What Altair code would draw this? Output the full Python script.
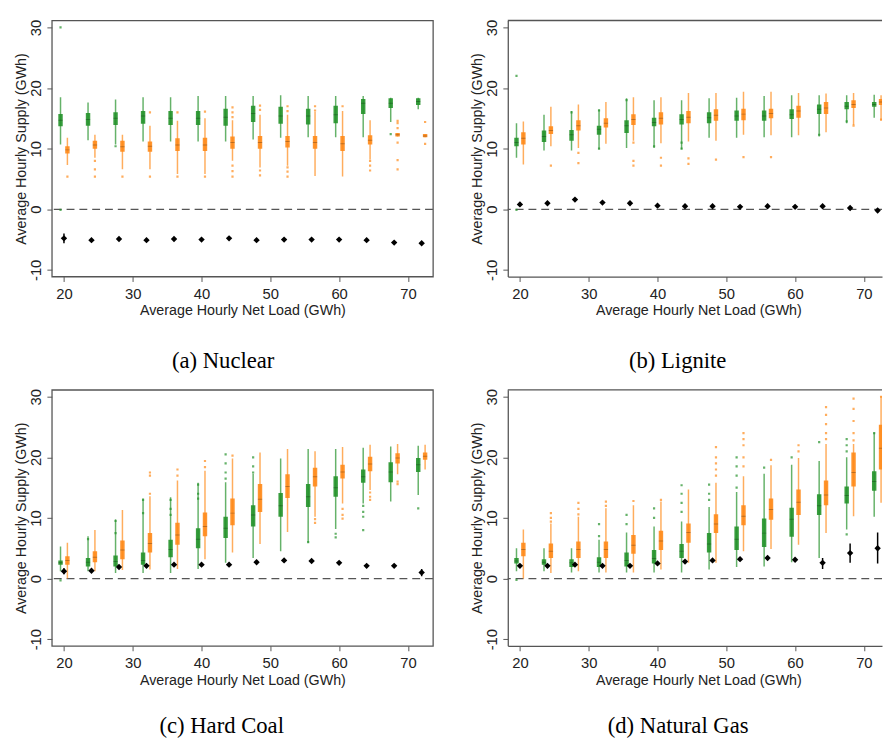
import altair as alt
import pandas as pd

loads = [20, 24, 28, 32, 36, 40, 44, 48, 52, 56, 60, 64, 68, 72]

# ---------------- (a) Nuclear ----------------
a_g_wlo = [10.7, 11.4, 10.7, 11.2, 11.2, 11.2, 11.2, 11.5, 11.8, 11.9, 11.9, 11.9, 14.4, 16.5]
a_g_q1 = [13.7, 13.8, 13.9, 14.1, 13.9, 13.9, 13.8, 14.4, 14.1, 14.0, 14.2, 15.7, 16.7, 17.2]
a_g_med = [14.7, 14.8, 15.0, 15.4, 15.0, 15.0, 15.2, 15.8, 15.4, 15.4, 15.6, 17.5, 17.5, 17.8]
a_g_q3 = [15.7, 15.9, 16.0, 16.2, 16.2, 16.2, 16.6, 17.1, 16.9, 16.6, 17.1, 18.2, 18.3, 18.3]
a_g_whi = [18.5, 17.6, 18.1, 18.5, 18.5, 18.7, 18.7, 18.7, 18.8, 18.7, 18.7, 18.7, 18.4, 18.4]
a_o_wlo = [7.3, 8.5, 6.6, 6.6, 5.8, 5.8, 8.0, 6.9, 7.2, 5.5, 5.4, 8.2, 12.0, 11.9]
a_o_q1 = [9.2, 10.0, 9.5, 9.5, 9.6, 9.6, 10.0, 10.0, 10.2, 10.0, 9.6, 10.7, 12.0, 11.9]
a_o_med = [9.8, 10.6, 10.3, 10.4, 10.6, 10.6, 11.0, 11.0, 11.2, 11.0, 10.8, 11.4, 12.3, 12.1]
a_o_q3 = [10.4, 11.3, 11.3, 11.2, 11.7, 11.8, 12.0, 12.1, 12.1, 12.1, 12.1, 12.2, 12.6, 12.4]
a_o_whi = [11.8, 12.3, 12.3, 13.8, 14.6, 15.0, 14.7, 15.6, 15.6, 16.1, 16.2, 14.7, 12.6, 12.4]
a_pt = [-4.8, -5.1, -4.9, -5.1, -4.9, -5.0, -4.8, -5.1, -5.0, -5.0, -5.0, -5.1, -5.5, -5.6]
a_lo = [-5.6, -5.3, -5.1, -5.3, -5.1, -5.2, -5.0, -5.3, -5.2, -5.2, -5.2, -5.3, -5.7, -5.8]
a_hi = [-4.0, -4.9, -4.7, -4.9, -4.7, -4.8, -4.6, -4.9, -4.8, -4.8, -4.8, -4.9, -5.3, -5.4]
a_go_x = [20, 20, 28, 68]
a_go_y = [30.0, -0.1, 10.4, 12.4]
a_oo_x = [20, 24, 24, 24, 28, 32, 32, 36, 36, 40, 40, 44, 44, 44, 44, 44, 44, 48, 48, 48, 48,
          52, 52, 52, 52, 52, 56, 56, 60, 64, 64, 64, 68, 68, 68, 68, 68, 68, 72, 72]
a_oo_y = [5.4, 8.0, 6.6, 5.4, 5.4, 16.0, 5.4, 16.0, 5.4, 16.1, 5.4, 16.8, 16.0, 15.2, 7.2, 6.3, 5.4,
          17.1, 16.4, 6.4, 5.6, 17.0, 16.2, 6.9, 6.2, 5.4, 17.0, 16.3, 17.0, 8.0, 7.2, 6.4,
          14.6, 14.2, 13.4, 11.0, 8.1, 6.6, 14.4, 10.8]

# ---------------- (b) Lignite ----------------
b_g_wlo = [8.5, 9.7, 9.7, 9.9, 10.1, 10.1, 9.9, 11.8, 11.8, 11.9, 11.9, 12.0, 14.2, 15.1]
b_g_q1 = [10.4, 11.1, 11.3, 12.3, 12.6, 13.7, 14.0, 14.2, 14.6, 14.6, 14.9, 15.7, 16.5, 16.9]
b_g_med = [11.0, 12.0, 12.3, 13.2, 13.8, 14.3, 14.8, 15.1, 15.4, 15.4, 15.6, 16.5, 17.0, 17.3]
b_g_q3 = [11.8, 13.0, 13.1, 13.8, 14.7, 15.1, 15.7, 16.0, 16.3, 16.3, 16.5, 17.3, 17.7, 17.7]
b_g_whi = [14.2, 15.6, 16.2, 16.5, 18.3, 18.0, 18.0, 18.3, 18.4, 18.7, 18.8, 18.8, 18.8, 18.9]
b_o_wlo = [7.4, 10.4, 10.1, 10.8, 11.3, 10.9, 11.2, 11.3, 12.3, 12.2, 12.2, 12.7, 13.9, 14.7]
b_o_q1 = [10.7, 12.4, 13.0, 13.5, 13.9, 14.0, 14.2, 14.6, 14.7, 15.0, 15.1, 15.7, 16.7, 17.2]
b_o_med = [11.7, 13.0, 13.8, 14.2, 14.8, 15.0, 15.2, 15.5, 15.7, 15.8, 16.2, 16.7, 17.3, 17.7]
b_o_q3 = [12.7, 13.7, 14.7, 15.0, 15.7, 16.0, 16.2, 16.5, 16.6, 16.6, 17.1, 17.7, 18.0, 18.2]
b_o_whi = [14.5, 16.9, 17.3, 17.7, 18.5, 18.5, 19.2, 19.2, 19.4, 19.4, 19.2, 19.1, 19.2, 18.8]
b_pt = [0.8, 1.0, 1.6, 1.1, 1.0, 0.6, 0.5, 0.5, 0.4, 0.5, 0.4, 0.5, 0.2, -0.2]
b_lo = [0.5, 0.8, 1.4, 0.9, 0.8, 0.4, 0.3, 0.3, 0.2, 0.3, 0.2, 0.3, 0.0, -0.4]
b_hi = [1.1, 1.2, 1.8, 1.3, 1.2, 0.8, 0.7, 0.7, 0.6, 0.7, 0.6, 0.7, 0.4, 0.0]
b_go_x = [20, 20, 28, 32, 32, 36, 40, 44, 44, 64, 68]
b_go_y = [22.0, -0.1, 16.0, 16.3, 10.0, 18.0, 10.4, 10.0, 11.0, 12.3, 14.5]
b_oo_x = [24, 28, 28, 36, 36, 36, 40, 40, 44, 44, 48, 52, 56, 68, 72]
b_oo_y = [7.2, 9.3, 7.6, 11.0, 8.0, 7.2, 8.5, 7.2, 8.4, 7.5, 8.2, 8.6, 8.6, 13.8, 14.8]

# ---------------- (c) Hard Coal ----------------
c_g_wlo = [1.2, 1.2, 0.9, 0.9, 0.9, 1.6, 2.6, 3.4, 4.5, 5.9, 8.2, 12.4, 12.7, 13.8]
c_g_q1 = [2.3, 2.0, 2.0, 2.3, 3.5, 5.0, 6.7, 8.6, 10.2, 11.8, 13.5, 15.8, 15.9, 17.6]
c_g_med = [2.6, 2.7, 2.8, 3.0, 4.8, 6.5, 8.3, 10.5, 12.0, 13.5, 15.0, 16.8, 17.6, 18.8]
c_g_q3 = [3.0, 3.4, 3.8, 4.3, 6.4, 8.3, 10.2, 12.1, 14.1, 15.6, 16.9, 18.0, 19.2, 19.9]
c_g_whi = [5.3, 7.0, 9.8, 13.2, 13.4, 15.8, 15.9, 17.3, 19.8, 21.4, 21.4, 21.6, 21.8, 21.9]
c_o_wlo = [0.0, 1.2, 1.4, 1.5, 1.6, 3.2, 4.3, 5.7, 7.7, 10.2, 12.4, 14.6, 17.2, 18.0]
c_o_q1 = [2.3, 2.7, 3.2, 4.3, 5.6, 7.0, 8.8, 11.0, 13.3, 15.2, 16.5, 17.7, 19.0, 19.6]
c_o_med = [3.0, 3.5, 4.7, 5.8, 7.2, 8.6, 10.8, 13.1, 15.2, 16.8, 17.6, 18.9, 19.9, 20.2]
c_o_q3 = [3.7, 4.5, 6.3, 7.5, 9.2, 10.9, 13.2, 15.6, 17.2, 18.3, 18.8, 20.1, 20.7, 20.8]
c_o_whi = [5.9, 8.0, 11.3, 13.6, 16.2, 17.8, 19.8, 20.8, 21.4, 21.0, 21.7, 22.1, 22.2, 22.1]
c_pt = [1.2, 1.3, 1.9, 2.1, 2.3, 2.3, 2.3, 2.7, 3.0, 2.9, 2.6, 2.1, 2.1, 1.0]
c_lo = [0.7, 1.1, 1.7, 1.9, 2.1, 2.1, 2.1, 2.5, 2.8, 2.7, 2.4, 1.9, 1.9, 0.4]
c_hi = [1.7, 1.5, 2.1, 2.3, 2.5, 2.5, 2.5, 2.9, 3.2, 3.1, 2.8, 2.3, 2.3, 1.6]
c_go_x = [20, 24, 28, 28, 32, 32, 36, 36, 36, 40, 40, 40, 44, 44, 44, 44, 48, 48, 48,
          56, 60, 60, 64, 64, 64, 64, 72]
c_go_y = [-0.3, 6.5, 9.5, 7.5, 13.0, 10.8, 13.0, 11.5, 10.5, 15.5, 14.0, 13.2, 20.5, 19.0, 17.5, 16.5,
          20.0, 18.5, 17.5, 6.0, 7.4, 6.8, 12.0, 11.0, 10.2, 8.0, 11.6]
c_oo_x = [32, 32, 32, 36, 36, 40, 40, 44, 56, 56, 60, 60, 60, 64, 64, 64, 68, 68]
c_oo_y = [17.5, 17.0, 14.0, 18.0, 17.0, 19.4, 18.4, 20.3, 9.8, 9.2, 11.5, 10.5, 9.9, 14.2, 13.5, 13.0,
          16.0, 15.6]

# ---------------- (d) Natural Gas ----------------
d_g_wlo = [1.2, 1.2, 1.0, 1.0, 1.0, 1.0, 1.0, 1.5, 1.9, 2.0, 2.7, 3.4, 8.1, 10.2]
d_g_q1 = [2.5, 2.3, 1.9, 1.9, 2.0, 2.5, 3.4, 4.3, 4.7, 5.2, 6.9, 10.5, 12.4, 14.5]
d_g_med = [2.9, 2.7, 2.6, 2.7, 3.0, 3.3, 4.5, 5.7, 6.5, 7.5, 9.8, 12.0, 13.7, 16.0]
d_g_q3 = [3.4, 3.2, 3.2, 3.5, 4.3, 4.7, 5.7, 7.5, 8.6, 9.9, 11.7, 13.9, 15.2, 17.7]
d_g_whi = [5.0, 5.0, 5.0, 6.4, 7.6, 8.6, 9.4, 11.8, 14.3, 17.3, 18.8, 19.4, 20.0, 24.1]
d_o_wlo = [0.0, 0.9, 1.2, 1.0, 1.0, 1.5, 2.6, 2.6, 4.5, 4.9, 5.6, 7.5, 10.3, 12.5]
d_o_q1 = [3.7, 3.4, 3.4, 3.4, 4.1, 4.7, 5.9, 7.5, 8.8, 9.7, 10.5, 12.1, 15.2, 18.0]
d_o_med = [4.8, 4.5, 4.8, 4.8, 5.5, 6.2, 7.6, 9.0, 10.3, 11.4, 12.6, 13.8, 17.5, 21.5]
d_o_q3 = [5.9, 5.8, 6.1, 6.1, 7.2, 7.9, 9.1, 10.6, 12.1, 13.2, 14.7, 16.2, 20.8, 25.4]
d_o_whi = [8.1, 9.1, 10.2, 11.6, 12.1, 12.7, 14.7, 15.8, 16.9, 18.7, 19.9, 22.2, 22.2, 30.1]
d_pt = [2.1, 2.1, 2.3, 2.1, 2.1, 2.5, 2.8, 3.0, 3.2, 3.4, 3.1, 2.6, 4.2, 5.0]
d_lo = [1.9, 1.9, 2.1, 1.9, 1.9, 2.3, 2.6, 2.8, 3.0, 3.1, 2.8, 1.6, 2.6, 2.5]
d_hi = [2.3, 2.3, 2.5, 2.3, 2.3, 2.7, 3.0, 3.2, 3.4, 3.7, 3.4, 3.4, 5.8, 7.6]
d_go_x = [20, 32, 32, 36, 36, 40, 40, 44, 44, 44, 44, 48, 48, 48, 52, 52, 52, 52, 56, 60, 64,
          68, 68, 68, 68, 72]
d_go_y = [-0.2, 9.0, 7.0, 10.5, 9.0, 11.6, 10.0, 15.4, 14.0, 12.5, 11.0, 15.5, 14.0, 13.0,
          20.0, 18.5, 17.0, 15.0, 18.3, 20.0, 22.5, 23.0, 22.0, 21.0, 7.3, 24.0]
d_oo_x = [24, 24, 24, 28, 28, 28, 32, 32, 36, 40, 48, 48, 48, 48, 48, 52, 52, 52, 52, 52,
          56, 60, 60, 64, 64, 64, 64, 64, 68, 68, 68, 68, 68, 72]
d_oo_y = [10.8, 10.0, 9.4, 12.5, 11.5, 10.6, 12.7, 12.0, 12.8, 13.0, 21.7, 20.0, 19.0, 18.0, 17.0,
          24.0, 23.0, 22.0, 20.0, 18.5, 19.6, 22.0, 21.0, 28.3, 27.0, 25.5, 24.0, 23.0,
          29.7, 28.0, 26.0, 24.0, 22.8, 30.0]

GREEN = "#23922a"
ORANGE = "#ff8a18"
FRAME = "#555555"
SANS = "Liberation Sans"
SERIF = "Liberation Serif"
PX_PER_UNIT = 6.985
X_LEFT = 18.235
Y_DOM = [-11.1, 31.15]
PH = 260
OFF = 0.5


def make_panel(caption, gw, gq1, gmed, gq3, gwhi, ow, oq1, omed, oq3, owhi,
               pt, lo, hi, gox, goy, oox, ooy, width, right, cap_offset, cap_dx):
    x_dom = [X_LEFT, X_LEFT + width / PX_PER_UNIT]
    boxes = pd.DataFrame({
        "pos": [v - OFF for v in loads] + [v + OFF for v in loads],
        "grp": ["g"] * len(loads) + ["o"] * len(loads),
        "wlo": gw + ow, "q1": gq1 + oq1, "med": gmed + omed,
        "q3": gq3 + oq3, "whi": gwhi + owhi,
    })
    outl = pd.DataFrame({
        "pos": [v - OFF for v in gox] + [v + OFF for v in oox],
        "grp": ["g"] * len(gox) + ["o"] * len(oox),
        "val": goy + ooy,
    })
    pts = pd.DataFrame({"load": loads, "pt": pt, "lo": lo, "hi": hi})
    zero = pd.DataFrame({"y": [0]})

    xaxis = alt.Axis(values=[20, 30, 40, 50, 60, 70], labelAngle=0, labelFontSize=15,
                     labelFont=SANS, labelColor="#222", tickColor=FRAME, tickSize=5,
                     labelPadding=5, labelFlush=False, grid=False, domain=right,
                     domainColor=FRAME, domainWidth=1.3,
                     title="Average Hourly Net Load (GWh)", titleFont=SANS,
                     titleFontSize=14.5, titleFontWeight="normal", titleColor="#222",
                     titlePadding=3, titleX=193.5)
    yaxis = alt.Axis(values=[-10, 0, 10, 20, 30], labelAngle=270, labelAlign="center",
                     labelBaseline="bottom", labelFontSize=15, labelFont=SANS,
                     labelExpr="datum.value + ''",
                     labelColor="#222", tickColor=FRAME, tickSize=5, labelPadding=3,
                     grid=False, domain=right, domainColor=FRAME, domainWidth=1.3,
                     title="Average Hourly Supply (GWh)", titleFont=SANS, titleFontSize=14.5,
                     titleFontWeight="normal", titleColor="#222", titlePadding=1,
                     titleAngle=270, titleBaseline="bottom", titleAlign="center")
    xs = alt.Scale(domain=x_dom, nice=False, zero=False)
    ys = alt.Scale(domain=Y_DOM, nice=False, zero=False)
    col = alt.Color("grp:N", scale=alt.Scale(domain=["g", "o"], range=[GREEN, ORANGE]), legend=None)

    zero_line = alt.Chart(zero).mark_rule(strokeDash=[8, 5], color="#555", strokeWidth=1.3).encode(
        y=alt.Y("y:Q", scale=ys, axis=yaxis))
    base = alt.Chart(boxes)
    whisk = base.mark_rule(strokeWidth=1.5, opacity=0.7, clip=True).encode(
        x=alt.X("pos:Q", scale=xs, axis=xaxis), y=alt.Y("wlo:Q", scale=ys, axis=yaxis),
        y2="whi:Q", color=col)
    box = base.mark_rule(strokeWidth=4.5, opacity=0.9, clip=True).encode(
        x=alt.X("pos:Q", scale=xs, axis=xaxis), y=alt.Y("q1:Q", scale=ys, axis=yaxis),
        y2="q3:Q", color=col)
    med = base.mark_tick(thickness=1, size=4.5, orient="horizontal", color="#000",
                         opacity=0.25, clip=True).encode(
        x=alt.X("pos:Q", scale=xs, axis=xaxis), y=alt.Y("med:Q", scale=ys, axis=yaxis))
    out = alt.Chart(outl).mark_square(size=5, opacity=0.7, clip=True).encode(
        x=alt.X("pos:Q", scale=xs, axis=xaxis), y=alt.Y("val:Q", scale=ys, axis=yaxis), color=col)
    err = alt.Chart(pts).mark_rule(color="black", strokeWidth=1.5, clip=True).encode(
        x=alt.X("load:Q", scale=xs, axis=xaxis), y=alt.Y("lo:Q", scale=ys, axis=yaxis), y2="hi:Q")
    dia = alt.Chart(pts).mark_point(shape="diamond", filled=True, size=42, color="black",
                                    opacity=1, clip=True).encode(
        x=alt.X("load:Q", scale=xs, axis=xaxis), y=alt.Y("pt:Q", scale=ys, axis=yaxis))
    layers = [zero_line, whisk, box, med, out, err, dia]
    if right:
        top = alt.Chart(zero).mark_rule(color=FRAME, strokeWidth=1.3).encode(
            x=alt.value(0), x2=alt.value(width), y=alt.value(0))
        layers.append(top)
    ch = alt.layer(*layers).properties(
        width=width, height=PH,
        view=alt.ViewBackground(stroke=None if right else FRAME, strokeWidth=1.3),
        title=alt.TitleParams(text=caption, orient="bottom", anchor="middle", frame="group",
                              font=SERIF, fontSize=23, fontWeight="normal", color="black",
                              offset=cap_offset, dx=cap_dx),
    )
    return ch


pa = make_panel("(a) Nuclear", a_g_wlo, a_g_q1, a_g_med, a_g_q3, a_g_whi,
                a_o_wlo, a_o_q1, a_o_med, a_o_q3, a_o_whi, a_pt, a_lo, a_hi,
                a_go_x, a_go_y, a_oo_x, a_oo_y, 387, False, 33, -19.5)
pb = make_panel("(b) Lignite", b_g_wlo, b_g_q1, b_g_med, b_g_q3, b_g_whi,
                b_o_wlo, b_o_q1, b_o_med, b_o_q3, b_o_whi, b_pt, b_lo, b_hi,
                b_go_x, b_go_y, b_oo_x, b_oo_y, 380, True, 33, -17.5)
pc = make_panel("(c) Hard Coal", c_g_wlo, c_g_q1, c_g_med, c_g_q3, c_g_whi,
                c_o_wlo, c_o_q1, c_o_med, c_o_q3, c_o_whi, c_pt, c_lo, c_hi,
                c_go_x, c_go_y, c_oo_x, c_oo_y, 387, False, 29, -21)
pd_ = make_panel("(d) Natural Gas", d_g_wlo, d_g_q1, d_g_med, d_g_q3, d_g_whi,
                 d_o_wlo, d_o_q1, d_o_med, d_o_q3, d_o_whi, d_pt, d_lo, d_hi,
                 d_go_x, d_go_y, d_oo_x, d_oo_y, 380, True, 29, -17)

row1 = alt.hconcat(pa, pb, spacing=34)
row2 = alt.hconcat(pc, pd_, spacing=34)
chart = alt.vconcat(row1, row2, spacing=14).properties(
    padding={"left": 4.5, "top": 5, "right": 0, "bottom": 0},
    background="white",
).configure_view(strokeWidth=1.3)

chart.save("out.html", embed_options={"renderer": "svg", "actions": False})
